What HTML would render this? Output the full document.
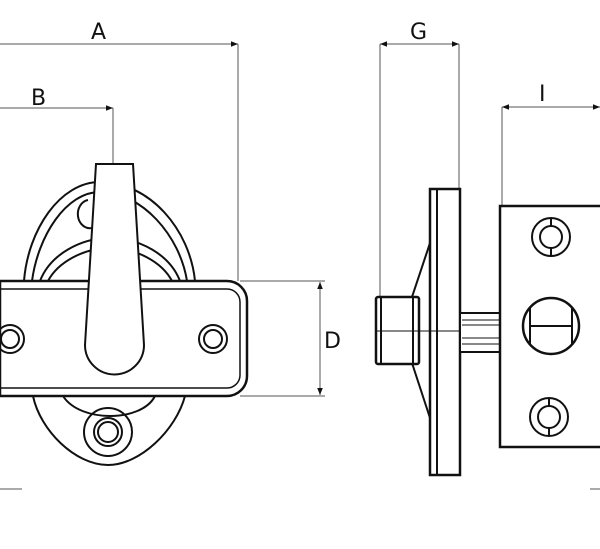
<!DOCTYPE html>
<html><head><meta charset="utf-8"><style>
html,body{margin:0;padding:0;background:#fff}
svg{display:block}
text{font-family:"DejaVu Sans","Liberation Sans",sans-serif;font-size:22px;fill:#111}
</style></head><body>
<svg width="600" height="549" viewBox="0 0 600 549" xmlns="http://www.w3.org/2000/svg">
<defs>
<marker id="ar" viewBox="0 0 10 10" refX="10" refY="5" markerWidth="7" markerHeight="7" orient="auto-start-reverse"><path d="M0,1 L10,5 L0,9 z" fill="#111"/></marker>
</defs>
<g stroke="#555" stroke-width="1" fill="none">
<line x1="0" y1="44" x2="238" y2="44" marker-end="url(#ar)"/>
<line x1="238" y1="44" x2="238" y2="281"/>
<line x1="0" y1="108" x2="113" y2="108" marker-end="url(#ar)"/>
<line x1="113" y1="108" x2="113" y2="164"/>
<line x1="240" y1="281" x2="325" y2="281"/>
<line x1="240" y1="396" x2="325" y2="396"/>
<line x1="320" y1="282" x2="320" y2="395" marker-start="url(#ar)" marker-end="url(#ar)"/>
<line x1="380" y1="44" x2="459" y2="44" marker-start="url(#ar)" marker-end="url(#ar)"/>
<line x1="380" y1="44" x2="380" y2="298"/>
<line x1="459" y1="44" x2="459" y2="190"/>
<line x1="502" y1="107" x2="600" y2="107" marker-start="url(#ar)" marker-end="url(#ar)"/>
<line x1="502" y1="107" x2="502" y2="206"/>
<line x1="0" y1="489" x2="22" y2="489"/>
<line x1="590" y1="489" x2="600" y2="489"/>
</g>
<text x="91" y="39">A</text>
<text x="31" y="105">B</text>
<text x="324" y="348">D</text>
<text x="410" y="39">G</text>
<text x="539" y="101">I</text>
<g stroke="#111" stroke-width="2" fill="none">
<!-- oval base -->
<path d="M24,281 C28,230 60,182 100,182 C150,182 190,230 195,281"/>
<path d="M32,281 C38,236 66,192 100,192 C142,192 180,236 187,281"/>
<path d="M40,281 C50,255 80,238 110,238 C140,238 170,255 180,281"/>
<path d="M48,281 C58,262 84,248 110,248 C136,248 162,262 172,281"/>
<path d="M33,396 C40,430 75,465 108,465 C140,465 176,430 185,396"/>
<path d="M63,396 C72,410 92,416 110,416 C128,416 148,410 155,396"/>
<path d="M88,200 A12,14 0 0 0 92,228"/>
<circle cx="108" cy="432" r="24"/>
<circle cx="108" cy="432" r="14"/>
<circle cx="108" cy="432" r="10"/>
<!-- plate -->
<path d="M0,281 H227 A20,20 0 0 1 247,301 V376 A20,20 0 0 1 227,396 H0 Z" fill="#fff" stroke-width="2.5"/>
<path d="M0,289 H227 A13,13 0 0 1 240,302 V375 A13,13 0 0 1 227,388 H0" stroke-width="1.5"/>
<circle cx="10" cy="339" r="14"/><circle cx="10" cy="339" r="9"/>
<circle cx="213" cy="339" r="14"/><circle cx="213" cy="339" r="9"/>
<!-- handle -->
<path d="M96,164 H133 L144,345 A29,29 0 0 1 85,345 Z" fill="#fff"/>
<!-- right view -->
<path d="M430,243 L412,297 M412,363 L430,418"/>
<rect x="430" y="189" width="30" height="286" fill="#fff" stroke-width="2.5"/>
<line x1="437" y1="189" x2="437" y2="475"/>
<rect x="376" y="297" width="43" height="67" rx="2" fill="#fff" stroke-width="2.5"/>
<line x1="381" y1="297" x2="381" y2="364"/>
<line x1="413" y1="297" x2="413" y2="364"/>
<line x1="376" y1="331" x2="460" y2="331" stroke-width="1"/>
<rect x="460" y="313" width="40" height="39" fill="#fff"/>
<g stroke-width="1"><line x1="462" y1="320" x2="500" y2="320"/><line x1="462" y1="325" x2="500" y2="325"/><line x1="462" y1="338" x2="500" y2="338"/><line x1="462" y1="344" x2="500" y2="344"/></g>
<rect x="500" y="206" width="110" height="241" fill="#fff" stroke-width="2.5"/>
<circle cx="551" cy="237" r="19"/><circle cx="551" cy="237" r="11"/>
<line x1="551" y1="218" x2="551" y2="226"/><line x1="551" y1="248" x2="551" y2="256"/>
<circle cx="549" cy="417" r="19"/><circle cx="549" cy="417" r="11"/>
<line x1="549" y1="398" x2="549" y2="406"/><line x1="549" y1="428" x2="549" y2="436"/>
<circle cx="551" cy="326" r="28" stroke-width="2.5"/>
<line x1="530" y1="326" x2="572" y2="326"/>
<line x1="530" y1="308" x2="530" y2="344"/>
<line x1="572" y1="308" x2="572" y2="344"/>
</g>
</svg>
</body></html>
